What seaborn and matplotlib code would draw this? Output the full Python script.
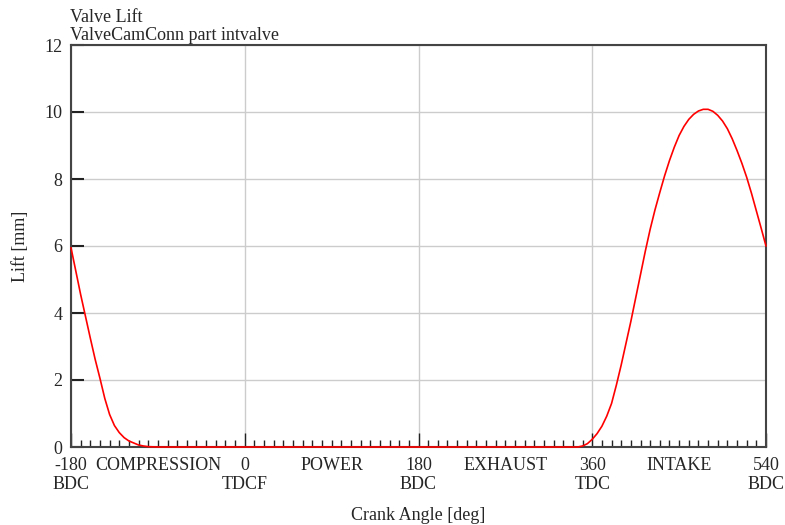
import matplotlib
matplotlib.use("Agg")
import matplotlib.pyplot as plt
import seaborn as sns

# Intake valve lift over one engine cycle
# closing flank (start of the plot)
close_angle = [-180, -175, -170, -165, -160, -155, -150, -145, -140, -135,
               -130, -125, -120, -115, -110, -105, -100, -90]
close_lift = [5.95, 5.25, 4.55, 3.9, 3.25, 2.62, 2.05, 1.45, 0.97, 0.64,
              0.43, 0.28, 0.18, 0.12, 0.06, 0.03, 0.01, 0.0]
# valve closed
dwell_angle = [340]
dwell_lift = [0.0]
# opening flank up to the end of the plot
open_angle = [345, 350, 355, 360, 365, 370, 375, 380, 385, 390,
              395, 400, 405, 410, 415, 420, 425, 430, 435, 440,
              445, 450, 455, 460, 465, 470, 475, 480, 485, 490,
              495, 500, 505, 510, 515, 520, 525, 530, 535, 540]
open_lift = [0.0, 0.03, 0.1, 0.23, 0.4, 0.62, 0.92, 1.3, 1.85, 2.45,
             3.1, 3.75, 4.45, 5.15, 5.85, 6.5, 7.08, 7.6, 8.1, 8.55,
             8.95, 9.3, 9.57, 9.78, 9.93, 10.03, 10.08, 10.08, 10.02, 9.9,
             9.73, 9.5, 9.2, 8.85, 8.47, 8.05, 7.57, 7.05, 6.53, 6.0]

major_ticks = [-180, 0, 180, 360, 540]
major_labels = ["-180\nBDC", "0\nTDCF", "180\nBDC", "360\nTDC", "540\nBDC"]
stroke_pos = [-90, 90, 270, 450]
stroke_names = ["COMPRESSION", "POWER", "EXHAUST", "INTAKE"]

sns.set_style("white")
plt.rcParams['font.family'] = ['Liberation Serif', 'DejaVu Serif']
plt.rcParams['font.size'] = 13

crank_angle = close_angle + dwell_angle + open_angle
lift = close_lift + dwell_lift + open_lift

fig = plt.figure(figsize=(7.85, 5.25), dpi=100)
ax = fig.add_axes([71 / 785, 1 - 447 / 525, 695 / 785, 402 / 525])

sns.lineplot(x=crank_angle, y=lift, color="#ff0000", linewidth=1.2, ax=ax)
# keep the closed-valve segment visible on top of the bottom spine
for ln in ax.get_lines():
    ln.set_zorder(3)
    ln.set_clip_on(False)

ax.set_xlim(-180, 540)
ax.set_ylim(0, 12)

# x axis: labelled TDC/BDC ticks, stroke names on minor ticks
minor_pos = [a for a in range(-170, 540, 10) if a not in major_ticks]
minor_lab = [stroke_names[stroke_pos.index(a)] if a in stroke_pos else "" for a in minor_pos]
ax.set_xticks(major_ticks, labels=major_labels)
ax.set_xticks(minor_pos, labels=minor_lab, minor=True)
ax.set_yticks(range(0, 13, 2))

ax.tick_params(axis="x", which="major", bottom=True, direction="in", length=10,
               width=1, color="#222222", pad=7, labelsize=13)
ax.tick_params(axis="x", which="minor", bottom=True, direction="in", length=5,
               width=1, color="#222222", pad=7, labelsize=13)
ax.tick_params(axis="y", left=True, direction="in", length=9, width=1.5,
               color="#222222", pad=6, labelsize=13)

ax.grid(True, which="major", color="#cccccc", linewidth=1)
ax.set_axisbelow(True)
for s in ax.spines.values():
    s.set_color("#444444")
    s.set_linewidth(1.5)

ax.set_xlabel("Crank Angle [deg]", labelpad=10)
ax.set_ylabel("Lift [mm]", labelpad=11)

fig.text(70 / 785, 1 - 22 / 525, "Valve Lift", va="baseline", ha="left", fontsize=13)
fig.text(70 / 785, 1 - 39.5 / 525, "ValveCamConn part intvalve", va="baseline",
         ha="left", fontsize=13)

fig.savefig("out.png", dpi=100)
